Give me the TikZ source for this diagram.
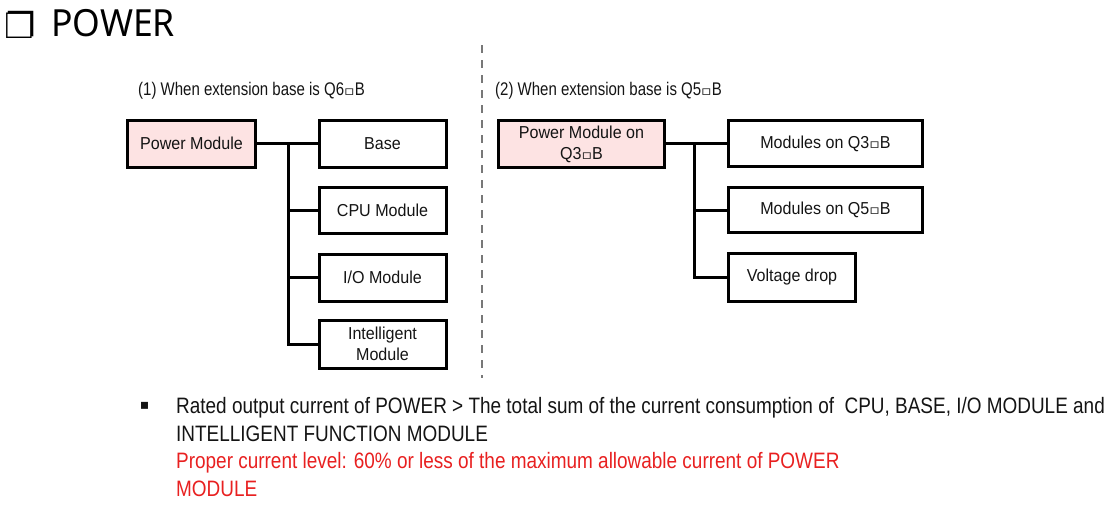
\documentclass[tikz,border=0pt]{standalone}
\usepackage{fontspec}
\setmainfont{Liberation Sans}
\newfontfamily\narrowfont[FakeStretch=0.82]{Liberation Sans}
\newfontfamily\bodyfont[FakeStretch=0.85]{Liberation Sans}
\newfontfamily\boxfont[FakeStretch=0.93]{Liberation Sans}
\newfontfamily\titlefont[FakeStretch=0.95]{Noto Sans}
\newfontfamily\symfont{DejaVu Sans}
\newfontfamily\sqfont[FakeStretch=1.2]{DejaVu Sans}
\definecolor{pinkfill}{RGB}{253,227,227}
\definecolor{txt}{RGB}{20,20,20}
\definecolor{redtxt}{RGB}{232,32,32}
\definecolor{dashgray}{RGB}{120,120,120}
\newcommand{\sq}{{\sqfont\fontsize{13}{13}\selectfont ▫}}
\tikzset{
  boxst/.style={draw=black, line width=3pt, inner sep=0pt, align=center,
    text=txt, font=\boxfont\fontsize{17.3}{21}\selectfont},
  pbox/.style={boxst, fill=pinkfill},
  conn/.style={line width=3pt, line cap=rect},
  head/.style={anchor=base west, inner sep=0pt, text=txt, font=\narrowfont\fontsize{18.3}{20}\selectfont},
  body/.style={anchor=base west, inner sep=0pt, font=\bodyfont\fontsize{22.3}{26}\selectfont},
}
\begin{document}
\begin{tikzpicture}[x=1pt,y=-1pt]
\useasboundingbox (0,0) rectangle (1119,507);
% title
\node[inner sep=0pt, font=\symfont\fontsize{35}{35}\selectfont] (tsym) at (20,24.5) {❐};
\node[anchor=base west, inner sep=0pt, font=\titlefont\fontsize{37.4}{40}\selectfont] (title) at (51,36.7) {POWER};
% divider
\coordinate (dtop) at (482,45);
\coordinate (dbot) at (482,378);
\draw[dashgray, line width=1.8pt, dash pattern=on 8pt off 7pt] (dtop) -- (dbot);
% headings
\node[head] (h1) at (138,95.7) {(1) When extension base is Q6\sq B};
\node[head] (h2) at (495,95.7) {(2) When extension base is Q5\sq B};
% left diagram
\node[pbox, minimum width=128pt, minimum height=47pt] (lp) at (191.5,143.5) {Power Module};
\node[boxst, minimum width=127pt, minimum height=47pt] (base) at (382.5,143.5) {Base};
\node[boxst, minimum width=127pt, minimum height=46pt] (cpu) at (382.5,210.5) {CPU Module};
\node[boxst, minimum width=127pt, minimum height=47pt] (io) at (382.5,277.5) {I/O Module};
\node[boxst, minimum width=127pt, minimum height=48pt] (intel) at (382.5,344) {Intelligent\\Module};
\coordinate (jl) at (288,143.5);
\draw[conn] (lp.east) -- (base.west);
\draw[conn] (jl) |- (intel.west);
\draw[conn] (jl |- cpu.west) -- (cpu.west);
\draw[conn] (jl |- io.west) -- (io.west);
% right diagram
\node[pbox, minimum width=166pt, minimum height=47pt] (rp) at (581.5,144) {Power Module on\\Q3\sq B};
\node[boxst, minimum width=194pt, minimum height=46pt] (q3) at (825.5,143.5) {Modules on Q3\sq B};
\node[boxst, minimum width=194pt, minimum height=45pt] (q5) at (825.5,210) {Modules on Q5\sq B};
\node[boxst, minimum width=127pt, minimum height=48pt] (vd) at (792,277.5) {Voltage drop};
\coordinate (jr) at (694,143.5);
\draw[conn] (rp.east |- q3.west) -- (q3.west);
\draw[conn] (jr) |- (vd.west);
\draw[conn] (jr |- q5.west) -- (q5.west);
% bottom text
\node[inner sep=0pt, text=txt, font=\symfont\fontsize{14}{14}\selectfont] (bul) at (144.5,405.5) {▪};
\node[body, text=txt] (l1) at (176,413.5) {Rated output current of POWER > The total sum of the current consumption of~ CPU, BASE, I/O MODULE and};
\node[body, text=txt] (l2) at (176,441) {INTELLIGENT FUNCTION MODULE};
\node[body, text=redtxt] (l3) at (176,468.5) {Proper current level: 60\% or less of the maximum allowable current of POWER};
\node[body, text=redtxt] (l4) at (176,496) {MODULE};
\end{tikzpicture}
\end{document}
